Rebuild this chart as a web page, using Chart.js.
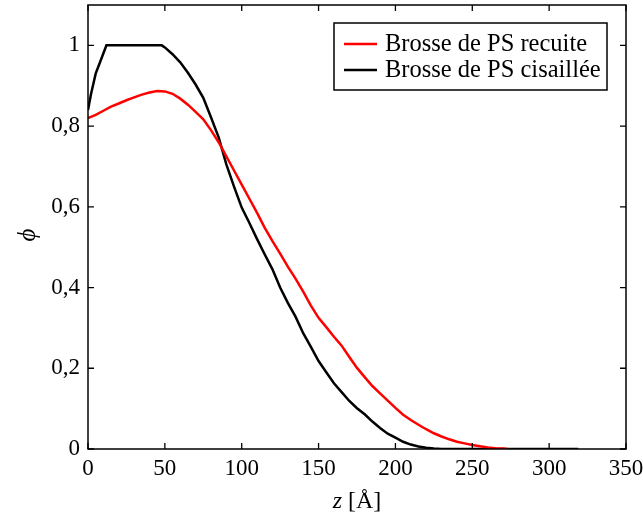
<!DOCTYPE html>
<html>
<head>
<meta charset="utf-8">
<script src="https://cdn.jsdelivr.net/npm/chart.js@4.4.0/dist/chart.umd.min.js"></script>
<style>
  html, body { margin: 0; padding: 0; background: #fff; }
  #wrap { width: 643px; height: 517px; }
</style>
</head>
<body>
<div id="wrap"><canvas id="phiChart" width="643" height="517"></canvas></div>
<script>
// profile, z in Angstrom
const zRecuite = [0, 5, 10, 15, 20, 25, 30, 35, 40, 45, 50, 55, 60, 65, 70, 75, 80, 85, 90, 95,
    100, 105, 110, 115, 120, 125, 130, 135, 140, 145, 150, 155, 160, 165, 170, 175, 180, 185, 190, 195,
    200, 205, 210, 215, 220, 225, 230, 235, 240, 245, 250, 255, 260, 265, 270, 273];
const phiRecuite = [0.82, 0.828, 0.838, 0.848, 0.856, 0.864, 0.871, 0.878, 0.883, 0.887, 0.886, 0.880, 0.868, 0.853, 0.835, 0.817, 0.790, 0.760, 0.725, 0.690,
    0.655, 0.620, 0.585, 0.548, 0.515, 0.484, 0.452, 0.422, 0.390, 0.355, 0.325, 0.302, 0.278, 0.256, 0.228, 0.201, 0.178, 0.156, 0.138, 0.120,
    0.102, 0.085, 0.072, 0.060, 0.049, 0.039, 0.031, 0.024, 0.018, 0.014, 0.010, 0.007, 0.004, 0.002, 0.001, 0];

const zCisaillee = [0, 2, 5, 8, 12, 48, 50, 55, 60, 65, 70, 75, 80, 85, 90, 95,
    100, 105, 110, 115, 120, 125, 130, 135, 140, 145, 150, 155, 160, 165, 170, 175, 180, 185, 190, 195,
    200, 205, 210, 215, 220, 225, 230, 319];
const phiCisaillee = [0.84, 0.88, 0.93, 0.96, 1.0, 1.0, 0.995, 0.978, 0.958, 0.932, 0.903, 0.870, 0.822, 0.772, 0.705, 0.650,
    0.598, 0.560, 0.520, 0.482, 0.445, 0.400, 0.362, 0.328, 0.287, 0.253, 0.218, 0.190, 0.163, 0.141, 0.119, 0.101, 0.086, 0.068, 0.052, 0.038,
    0.028, 0.018, 0.011, 0.006, 0.003, 0.001, 0, 0];

const xTicks = [0, 50, 100, 150, 200, 250, 300, 350];
const yTicks = [0, 0.2, 0.4, 0.6, 0.8, 1];
const yTickLabels = ['0', '0,2', '0,4', '0,6', '0,8', '1'];

const seriesNames = ['Brosse de PS recuite', 'Brosse de PS cisaillée'];
const seriesColors = ['#ff0000', '#000000'];

const FONT = '"Liberation Serif", "DejaVu Serif", serif';

function toPoints(xs, ys) {
    return xs.map((x, i) => ({ x: x, y: ys[i] }));
}

// frame, inward ticks on all four sides, axis titles, legend box
const decorPlugin = {
    id: 'decor',
    afterDatasetsDraw(chart) {
        const ctx = chart.ctx;
        const a = chart.chartArea;
        const xs = chart.scales.x;
        const ys = chart.scales.y;
        const tl = 6;
        ctx.save();
        ctx.strokeStyle = '#000';
        ctx.lineWidth = 1.3;
        ctx.beginPath();
        xTicks.forEach(v => {
            const px = xs.getPixelForValue(v);
            ctx.moveTo(px, a.bottom); ctx.lineTo(px, a.bottom - tl);
            ctx.moveTo(px, a.top); ctx.lineTo(px, a.top + tl);
        });
        yTicks.forEach(v => {
            const py = ys.getPixelForValue(v);
            ctx.moveTo(a.left, py); ctx.lineTo(a.left + tl, py);
            ctx.moveTo(a.right, py); ctx.lineTo(a.right - tl, py);
        });
        ctx.stroke();
        ctx.lineWidth = 1.5;
        ctx.strokeRect(a.left, a.top, a.right - a.left, a.bottom - a.top);

        // x title: italic z, upright [Å]
        ctx.fillStyle = '#000';
        ctx.textBaseline = 'alphabetic';
        const cx = (a.left + a.right) / 2;
        const by = 508;
        ctx.font = 'italic 24px ' + FONT;
        const w1 = ctx.measureText('z ').width;
        ctx.font = '24px ' + FONT;
        const w2 = ctx.measureText('[Å]').width;
        let sx = cx - (w1 + w2) / 2;
        ctx.font = 'italic 24px ' + FONT;
        ctx.textAlign = 'left';
        ctx.fillText('z ', sx, by);
        ctx.font = '24px ' + FONT;
        ctx.fillText('[Å]', sx + w1, by);

        // y title
        ctx.save();
        ctx.translate(35, (a.top + a.bottom) / 2 + 8);
        ctx.rotate(-Math.PI / 2);
        ctx.font = 'italic 25px ' + FONT;
        ctx.textAlign = 'center';
        ctx.fillText('\u03D5', 0, 0);
        ctx.restore();

        // legend
        const lx = 334, ly = 23, lw = 273, lh = 67;
        ctx.fillStyle = '#fff';
        ctx.fillRect(lx, ly, lw, lh);
        ctx.lineWidth = 1.5;
        ctx.strokeStyle = '#000';
        ctx.strokeRect(lx, ly, lw, lh);
        ctx.font = '24.5px ' + FONT;
        ctx.textAlign = 'left';
        ctx.textBaseline = 'middle';
        seriesNames.forEach((name, i) => {
            const yy = ly + 21 + i * 26;
            ctx.strokeStyle = seriesColors[i];
            ctx.lineWidth = 2.5;
            ctx.beginPath();
            ctx.moveTo(lx + 10, yy); ctx.lineTo(lx + 43, yy);
            ctx.stroke();
            ctx.fillStyle = '#000';
            ctx.fillText(name, lx + 51, yy + 1);
        });
        ctx.restore();
    }
};

const ctx = document.getElementById('phiChart').getContext('2d');
new Chart(ctx, {
    type: 'line',
    data: {
        datasets: [{
            label: seriesNames[0],
            data: toPoints(zRecuite, phiRecuite),
            borderColor: seriesColors[0],
            borderWidth: 2.5,
            pointRadius: 0,
            tension: 0,
            fill: false
        }, {
            label: seriesNames[1],
            data: toPoints(zCisaillee, phiCisaillee),
            borderColor: seriesColors[1],
            borderWidth: 2.5,
            pointRadius: 0,
            tension: 0,
            fill: false
        }]
    },
    options: {
        responsive: false,
        animation: false,
        layout: { autoPadding: false, padding: { left: 0, right: 17, top: 5, bottom: 0 } },
        plugins: {
            legend: { display: false },
            tooltip: { enabled: false }
        },
        scales: {
            x: {
                type: 'linear',
                min: 0,
                max: 350,
                afterFit(scale) {
                    scale.height = 68;
                    scale.paddingLeft = 0;
                    scale.paddingRight = 0;
                },
                afterBuildTicks(scale) { scale.ticks = xTicks.map(v => ({ value: v })); },
                grid: { display: false, drawTicks: false },
                border: { display: false },
                ticks: {
                    padding: 6,
                    maxRotation: 0,
                    color: '#000',
                    font: { family: FONT, size: 23 }
                }
            },
            y: {
                type: 'linear',
                min: 0,
                max: 1.1,
                afterFit(scale) {
                    scale.width = 88;
                    scale.paddingTop = 0;
                    scale.paddingBottom = 0;
                },
                afterBuildTicks(scale) { scale.ticks = yTicks.map(v => ({ value: v })); },
                grid: { display: false, drawTicks: false },
                border: { display: false },
                ticks: {
                    padding: 8,
                    color: '#000',
                    font: { family: FONT, size: 23 },
                    callback: (v) => {
                        const i = yTicks.findIndex(t => Math.abs(t - v) < 1e-6);
                        return i >= 0 ? yTickLabels[i] : '';
                    }
                }
            }
        }
    },
    plugins: [decorPlugin]
});
</script>
</body>
</html>
